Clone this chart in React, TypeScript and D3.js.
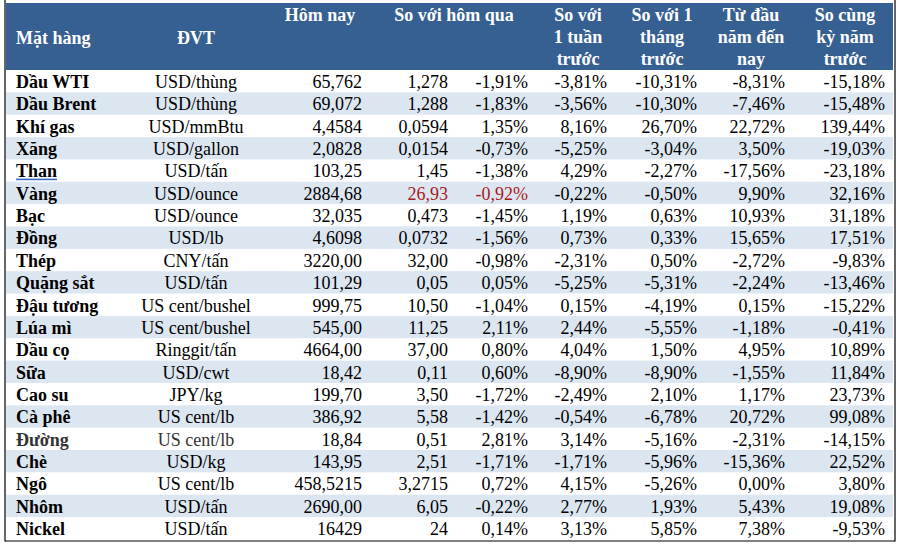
import React from "react";
import * as d3 from "d3";

const items = ["Dầu WTI","Dầu Brent","Khí gas","Xăng","Than","Vàng","Bạc","Đồng","Thép","Quặng sắt","Đậu tương","Lúa mì","Dầu cọ","Sữa","Cao su","Cà phê","Đường","Chè","Ngô","Nhôm","Nickel"];
const units = ["USD/thùng","USD/thùng","USD/mmBtu","USD/gallon","USD/tấn","USD/ounce","USD/ounce","USD/lb","CNY/tấn","USD/tấn","US cent/bushel","US cent/bushel","Ringgit/tấn","USD/cwt","JPY/kg","US cent/lb","US cent/lb","USD/kg","US cent/lb","USD/tấn","USD/tấn"];
const today = ["65,762","69,072","4,4584","2,0828","103,25","2884,68","32,035","4,6098","3220,00","101,29","999,75","545,00","4664,00","18,42","199,70","386,92","18,84","143,95","458,5215","2690,00","16429"];
const dayChange = ["1,278","1,288","0,0594","0,0154","1,45","26,93","0,473","0,0732","32,00","0,05","10,50","11,25","37,00","0,11","3,50","5,58","0,51","2,51","3,2715","6,05","24"];
const dayPct = ["-1,91%","-1,83%","1,35%","-0,73%","-1,38%","-0,92%","-1,45%","-1,56%","-0,98%","0,05%","-1,04%","2,11%","0,80%","0,60%","-1,72%","-1,42%","2,81%","-1,71%","0,72%","-0,22%","0,14%"];
const weekPct = ["-3,81%","-3,56%","8,16%","-5,25%","4,29%","-0,22%","1,19%","0,73%","-2,31%","-5,25%","0,15%","2,44%","4,04%","-8,90%","-2,49%","-0,54%","3,14%","-1,71%","4,15%","2,77%","3,13%"];
const monthPct = ["-10,31%","-10,30%","26,70%","-3,04%","-2,27%","-0,50%","0,63%","0,33%","0,50%","-5,31%","-4,19%","-5,55%","1,50%","-8,90%","2,10%","-6,78%","-5,16%","-5,96%","-5,26%","1,93%","5,85%"];
const ytdPct = ["-8,31%","-7,46%","22,72%","3,50%","-17,56%","9,90%","10,93%","15,65%","-2,72%","-2,24%","0,15%","-1,18%","4,95%","-1,55%","1,17%","20,72%","-2,31%","-15,36%","0,00%","5,43%","7,38%"];
const yoyPct = ["-15,18%","-15,48%","139,44%","-19,03%","-23,18%","32,16%","31,18%","17,51%","-9,83%","-13,46%","-15,22%","-0,41%","10,89%","11,84%","23,73%","99,08%","-14,15%","22,52%","3,80%","19,08%","-9,53%"];

const W = 903, H = 544;
const FONT = "'Liberation Serif', 'Times New Roman', serif";
const HEADER_BG = "#376092";
const BAND = "#dce6f1";
const RED = "#a61c1c";
const GREY = "#333333";

export default function App() {
  const y = d3.scaleBand<number>().domain(d3.range(items.length)).range([70, 539.4]).paddingInner(0).paddingOuter(0);
  const rh = y.bandwidth();
  const left = 5, right = 895, bottom = 541;

  const cols: { vals: string[]; x: number; anchor: "start" | "middle" | "end" }[] = [
    { vals: units, x: 196, anchor: "middle" },
    { vals: today, x: 362, anchor: "end" },
    { vals: dayChange, x: 448, anchor: "end" },
    { vals: dayPct, x: 528, anchor: "end" },
    { vals: weekPct, x: 607, anchor: "end" },
    { vals: monthPct, x: 697, anchor: "end" },
    { vals: ytdPct, x: 785, anchor: "end" },
    { vals: yoyPct, x: 885, anchor: "end" },
  ];

  const headers: { lines: string[]; x: number; anchor: "start" | "middle" | "end"; top: number }[] = [
    { lines: ["Mặt hàng"], x: 16, anchor: "start", top: 44 },
    { lines: ["ĐVT"], x: 196, anchor: "middle", top: 44 },
    { lines: ["Hôm nay"], x: 320, anchor: "middle", top: 21 },
    { lines: ["So với hôm qua"], x: 454, anchor: "middle", top: 21 },
    { lines: ["So với", "1 tuần", "trước"], x: 578, anchor: "middle", top: 21 },
    { lines: ["So với 1", "tháng", "trước"], x: 662, anchor: "middle", top: 21 },
    { lines: ["Từ đầu", "năm đến", "nay"], x: 751, anchor: "middle", top: 21 },
    { lines: ["So cùng", "kỳ năm", "trước"], x: 845, anchor: "middle", top: 21 },
  ];

  return (
    <svg width={W} height={H} style={{ position: "absolute", left: 0, top: 0, background: "#fff" }} fontFamily={FONT}>
      <rect x={0} y={0} width={W} height={H} fill="#fff" />
      <rect x={6} y={3} width={887} height={67} fill={HEADER_BG} />
      {headers.map((h, i) => (
        <text key={i} x={h.x} y={h.top} textAnchor={h.anchor} fill="#fff" fontWeight="bold" fontSize={18}>
          {h.lines.map((l, j) => (
            <tspan key={j} x={h.x} y={h.top + j * 22}>{l}</tspan>
          ))}
        </text>
      ))}
      {items.map((_, i) =>
        i % 2 === 1 ? <rect key={"b" + i} x={6} y={y(i)!} width={887} height={rh} fill={BAND} /> : null
      )}
      {items.map((name, i) => {
        const base = y(i)! + 18;
        const isThan = name === "Than";
        const isDuong = name === "Đường";
        return (
          <g key={"r" + i} fontSize={18}>
            <text x={16} y={base} fontWeight="bold" fill={isDuong ? GREY : "#000"}>
              {name}
            </text>
            {isThan ? <rect x={16} y={base + 1.2} width={41} height={1.6} fill="#3a6bc0" /> : null}
            {cols.map((c, k) => {
              const red = name === "Vàng" && (k === 2 || k === 3);
              const fill = red ? RED : isDuong && k === 0 ? GREY : "#000";
              return (
                <text key={k} x={c.x} y={base} textAnchor={c.anchor} fill={fill}>
                  {c.vals[i]}
                </text>
              );
            })}
          </g>
        );
      })}
      <line x1={left} x2={left} y1={0} y2={bottom + 0.5} stroke="#000" strokeWidth={1.2} />
      <line x1={right} x2={right} y1={0} y2={bottom + 0.5} stroke="#000" strokeWidth={1.2} />
      <line x1={left} x2={right} y1={bottom} y2={bottom} stroke="#000" strokeWidth={1.2} />
    </svg>
  );
}
